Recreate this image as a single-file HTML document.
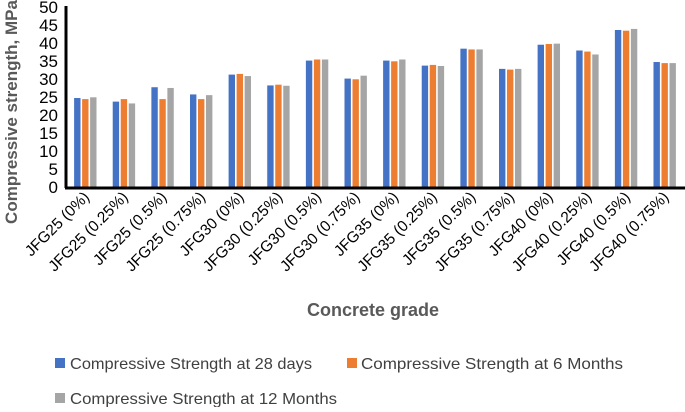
<!DOCTYPE html>
<html><head><meta charset="utf-8"><style>
body{margin:0;background:#fff;font-family:"Liberation Sans",sans-serif}
svg text{font-family:"Liberation Sans",sans-serif}
</style></head><body>
<svg width="685" height="407">
<g id="g"></g>
</svg>
<script>
const categories=["JFG25 (0%)","JFG25 (0.25%)","JFG25 (0.5%)","JFG25 (0.75%)","JFG30 (0%)","JFG30 (0.25%)","JFG30 (0.5%)","JFG30 (0.75%)","JFG35 (0%)","JFG35 (0.25%)","JFG35 (0.5%)","JFG35 (0.75%)","JFG40 (0%)","JFG40 (0.25%)","JFG40 (0.5%)","JFG40 (0.75%)"];
const s28=[24.8,23.8,27.8,25.8,31.3,28.3,35.2,30.2,35.2,33.8,38.5,32.9,39.6,38.0,43.7,34.8];
const s6m=[24.5,24.5,24.5,24.5,31.5,28.5,35.5,30.0,35.0,34.0,38.3,32.7,39.8,37.7,43.5,34.5];
const s12m=[25.0,23.3,27.6,25.6,30.9,28.2,35.5,31.0,35.5,33.7,38.3,32.9,39.9,36.9,44.0,34.5];
const seriesNames=["Compressive Strength at 28 days","Compressive Strength at 6 Months","Compressive Strength at 12 Months"];
const yTicks=[0,5,10,15,20,25,30,35,40,45,50];
const colors=["#4472C4","#ED7D31","#A5A5A5"];
const NS="http://www.w3.org/2000/svg";
const g=document.getElementById('g');
const x0=66,x1=684,y0=187,yTop=7;
const y=v=>y0-(v/50)*(y0-yTop);
const cw=(x1-x0)/categories.length;
function el(t,a,txt){const e=document.createElementNS(NS,t);for(const k in a)e.setAttribute(k,a[k]);if(txt!=null)e.textContent=txt;g.appendChild(e);return e;}
yTicks.forEach(t=>{const e=el('text',{x:x0-8,y:y(t)+6,'text-anchor':'end','font-size':17,fill:'#000'},t);

});
[s28,s6m,s12m].forEach((s,si)=>{s.forEach((v,i)=>{const bx=x0+i*cw+cw/2-11.5+si*8;
const r=el('rect',{x:bx,y:y(v),width:7,height:y0-y(v),fill:colors[si],stroke:'#fff','stroke-width':0.6});

});});
const ax=el('line',{x1:x0,y1:6,x2:x0,y2:y0+1,stroke:'#000','stroke-width':3});


const bx=el('line',{x1:x0-1,y1:y0+1,x2:685,y2:y0+1,stroke:'#000','stroke-width':3});


categories.forEach((c,i)=>{const cx=x0+i*cw+cw/2+5;const t=el('text',{x:cx,y:198,'text-anchor':'end','font-size':15.5,fill:'#000',transform:`rotate(-45 ${cx} 198)`},c);

});
const yt=el('text',{x:0,y:0,'text-anchor':'middle','font-size':17,'font-weight':'bold',fill:'#595959',transform:'translate(17,112) rotate(-90)'},'Compressive strength, MPa');


const xt=el('text',{x:373,y:316,'text-anchor':'middle','font-size':18,'font-weight':'bold',fill:'#595959'},'Concrete grade');


const lp=[[55,369,70,242],[347,369,361,262],[55,404,70,267]];
seriesNames.forEach((n,i)=>{const r=el('rect',{x:lp[i][0],y:lp[i][1]-11,width:10,height:10,fill:colors[i]});


const t=el('text',{x:lp[i][2],y:lp[i][1],'font-size':16,fill:'#404040',textLength:lp[i][3],lengthAdjust:'spacingAndGlyphs'},n);

});
</script>
</body></html>
